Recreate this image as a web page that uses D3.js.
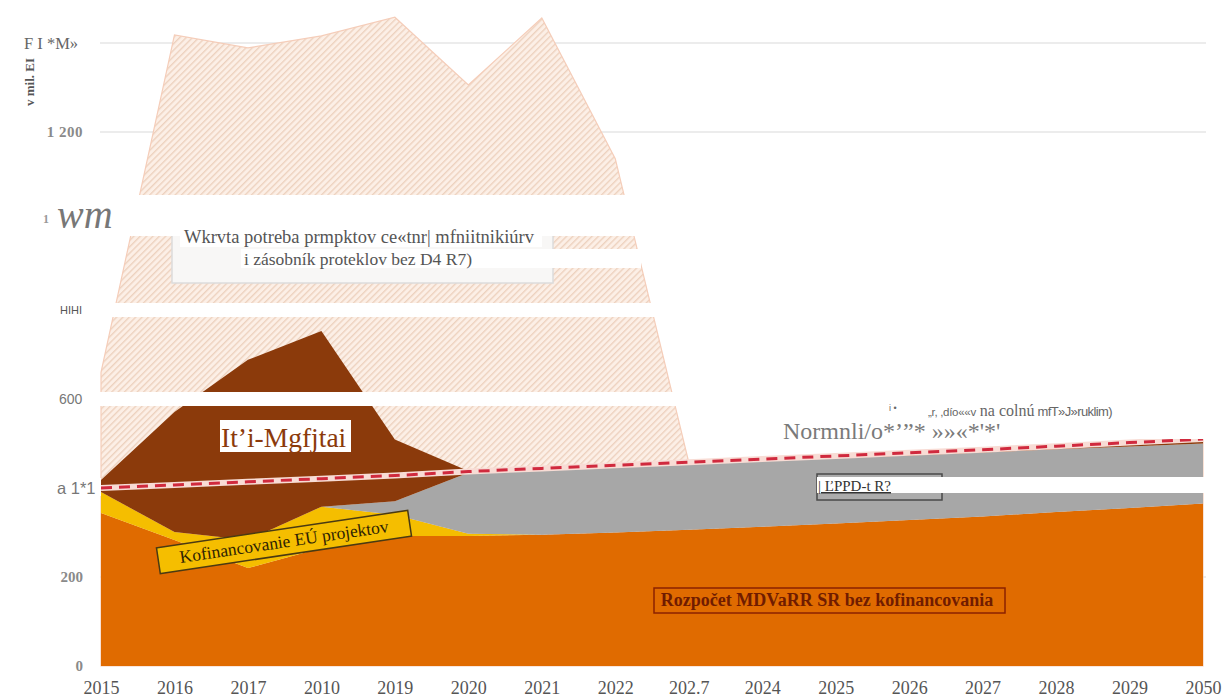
<!DOCTYPE html>
<html><head><meta charset="utf-8">
<script src="https://cdn.jsdelivr.net/npm/d3@7/dist/d3.min.js"></script>
<style>
html,body{margin:0;padding:0;background:#fff;}
svg{display:block;}
</style></head><body>
<svg id="chart" width="1222" height="697"></svg>
<script>
// ---------------- DATA ----------------
const years = [2015,2016,2017,2018,2019,2020,2021,2022,2023,2024,2025,2026,2027,2028,2029,2030];
const xTickLabels = ["2015","2016","2017","2010","2019","2020","2021","2022","202.7","2024","2025","2026","2027","2028","2029","2050"];
const yTickValues = [0,200,400,600,800,1000,1200,1400];
const yTickLabels = ["0","200","a 1*1","600","HIHI","1 wm","1 200","F I *M»"];
// stacked series (mil. EUR)
const rozpocet       = [344,283,220,265,292,292,295,300,306,313,320,328,336,346,355,365];
const kofinancovanie = [47,18,63,93,48,5,0,0,0,0,0,0,0,0,0,0];
const uppd           = [0,0,0,0,30,137,146,147,148,147,147,145,144,141,138,135];
const dalsie         = [27,270,405,395,139,4,3,3,4,4,5,6,7,8,9,10];
// total need (hatched) and normal need (dashed)
const celkovaPotreba = [660,1418,1389,1416,1458,1306,1456,1140,458,465,472,479,486,494,502,510];
const normalnaPotreba= [400,407,414,421,428,437,444,451,458,465,472,479,486,494,502,510];
const seriesKeys = ["rozpocet","kofinancovanie","uppd","dalsie"];
const seriesLabels = {
  celkova: ["Wkrvta potreba prmpktov ce«tnr| mfniitnikiúrv","i zásobník proteklov bez D4 R7)"],
  dalsie: "It’i-Mgfjtai",
  kofinancovanie: "Kofinancovanie EÚ projektov",
  rozpocet: "Rozpočet MDVaRR SR bez kofinancovania",
  uppd: "| ĽPPD-t R?",
  normalna: "Normnli/o*’”* »»«*'*'",
  normalnaSmall: ["i •", "„r, ,dío««v", " na colnú", " mfT»J»ruklim)"],
  yTitle: "v mil. EI"
};

// ---------------- CHART ----------------
const svg = d3.select("#chart");
const x = d3.scaleLinear().domain([2015,2030]).range([101,1203]);
const y = d3.scaleLinear().domain([0,1400]).range([666,43]);
const SERIF = "'Liberation Serif','Times New Roman',serif";
const SANS = "'Liberation Sans','DejaVu Sans',Arial,sans-serif";

const rows = years.map((yr,i)=>({year:yr, rozpocet:rozpocet[i], kofinancovanie:kofinancovanie[i],
  uppd:uppd[i], dalsie:dalsie[i], celkova:celkovaPotreba[i], normalna:normalnaPotreba[i]}));

const defs = svg.append("defs");
const pat = defs.append("pattern").attr("id","hatch").attr("patternUnits","userSpaceOnUse")
  .attr("width",4.5).attr("height",4.5).attr("patternTransform","rotate(45)");
pat.append("rect").attr("width",4.5).attr("height",4.5).attr("fill","#FCEFE6");
pat.append("line").attr("x1",0.7).attr("y1",0).attr("x2",0.7).attr("y2",4.5)
  .attr("stroke","#EDD0BC").attr("stroke-width",1.3);

// gridlines
svg.append("g").selectAll("line").data(yTickValues.filter(v=>v>0)).join("line")
  .attr("x1",100).attr("x2",1206).attr("y1",d=>y(d)).attr("y2",d=>y(d))
  .attr("stroke","#E6E6E6").attr("stroke-width",1.5);

// hatched total need
svg.append("path").datum(rows)
  .attr("d", d3.area().x(d=>x(d.year)).y0(y(0)).y1(d=>y(d.celkova)))
  .attr("fill","url(#hatch)").attr("stroke","#F5CDB9").attr("stroke-width",1.2);

// stacked areas
const colors = {rozpocet:"#E06B00", kofinancovanie:"#F5BE00", uppd:"#A7A7A7", dalsie:"#8B3A0B"};
const stacked = d3.stack().keys(seriesKeys)(rows);
svg.append("g").selectAll("path").data(stacked).join("path")
  .attr("fill",s=>colors[s.key])
  .attr("d", d3.area().x(d=>x(d.data.year)).y0(d=>y(d[0])).y1(d=>y(d[1])));

// dashed normal-need line
const ln = d3.line().x(d=>x(d.year)).y(d=>y(d.normalna));
svg.append("path").datum(rows).attr("d",ln).attr("fill","none")
  .attr("stroke","#F8DCD5").attr("stroke-width",6);
svg.append("path").datum(rows).attr("d",ln).attr("fill","none")
  .attr("stroke","#D02A3E").attr("stroke-width",3).attr("stroke-dasharray","11,7");

// ---- original label boxes ----
svg.append("rect").attr("x",172).attr("y",225).attr("width",381).attr("height",58)
  .attr("fill","#F8F7F6").attr("stroke","#DCDCDC").attr("stroke-width",1.5);
svg.append("rect").attr("x",817).attr("y",474).attr("width",125).attr("height",26)
  .attr("fill","#ACACAC").attr("stroke","#4A4A4A").attr("stroke-width",1.5);

const kof = svg.append("g").attr("transform","translate(284,542) rotate(-8.5)");
kof.append("rect").attr("x",-127).attr("y",-13).attr("width",254).attr("height",26)
  .attr("fill","#F5BE00").attr("stroke","#4A3A12").attr("stroke-width",1.5);
kof.append("text").attr("x",0).attr("y",5.5).attr("text-anchor","middle")
  .attr("font-family",SERIF).attr("font-size",17.5).attr("fill","#2E2304")
  .text(seriesLabels.kofinancovanie);

svg.append("rect").attr("x",654).attr("y",588).attr("width",351).attr("height",25)
  .attr("fill","#E06B00").attr("stroke","#8B2200").attr("stroke-width",1.5);
svg.append("text").attr("x",827).attr("y",606).attr("text-anchor","middle")
  .attr("font-family",SERIF).attr("font-size",18).attr("font-weight","bold").attr("fill","#701C00")
  .text(seriesLabels.rozpocet);

// ---- white overlay bands (OCR text backgrounds) ----
const bands = [
  [22,35,59,18],[55,195,1167,41],[180,228,362,19],[241,249,400,19],
  [55,303,1167,14],[55,392,1167,14],[220,420,131,32],[783,403,425,36],
  [817,477,405,16],[55,478,46,18]
];
svg.append("g").selectAll("rect").data(bands).join("rect")
  .attr("x",d=>d[0]).attr("y",d=>d[1]).attr("width",d=>d[2]).attr("height",d=>d[3]).attr("fill","#fff");

// celkova text
svg.append("text").attr("x",359).attr("y",243).attr("text-anchor","middle")
  .attr("font-family",SERIF).attr("font-size",18.5).attr("fill","#555").text(seriesLabels.celkova[0]);
svg.append("text").attr("x",358).attr("y",265).attr("text-anchor","middle")
  .attr("font-family",SERIF).attr("font-size",17.5).attr("fill","#555").text(seriesLabels.celkova[1]);

// dalsie label
svg.append("text").attr("x",221).attr("y",447)
  .attr("font-family",SERIF).attr("font-size",27.5).attr("fill","#8B3A0B").text(seriesLabels.dalsie);

// normalna label
svg.append("text").attr("x",783).attr("y",439)
  .attr("font-family",SERIF).attr("font-size",24).attr("fill","#7A7A7A").text(seriesLabels.normalna);
svg.append("text").attr("x",889).attr("y",411)
  .attr("font-family",SANS).attr("font-size",9).attr("fill","#666").text(seriesLabels.normalnaSmall[0]);
const ns = svg.append("text").attr("x",928).attr("y",416).attr("fill","#666");
ns.append("tspan").attr("font-family",SANS).attr("font-size",11.5).attr("letter-spacing",-0.3).text(seriesLabels.normalnaSmall[1]);
ns.append("tspan").attr("font-family",SERIF).attr("font-size",16).text(seriesLabels.normalnaSmall[2]);
ns.append("tspan").attr("font-family",SANS).attr("font-size",13).attr("letter-spacing",-0.6).text(seriesLabels.normalnaSmall[3]);

// uppd label
svg.append("text").attr("x",818).attr("y",491)
  .attr("font-family",SERIF).attr("font-size",15).attr("fill","#333")
  .attr("text-decoration","underline").text(seriesLabels.uppd);

// ---- Y tick labels ----
const yl = svg.append("g");
yTickValues.forEach((v,i)=>{
  const lab = yTickLabels[i];
  const cy = y(v);
  if (i===0 || i===1 || i===6) {
    yl.append("text").attr("x",83).attr("y",cy+5).attr("text-anchor","end")
      .attr("font-family",SERIF).attr("font-weight","bold").attr("font-size",15)
      .attr("letter-spacing", i===6 ? 0.5 : 0).attr("fill","#8A8A8A").text(lab);
  } else if (i===2) {
    yl.append("text").attr("x",57).attr("y",cy+6).attr("font-family",SANS).attr("font-size",16.5).attr("fill","#777").text(lab);
  } else if (i===3) {
    yl.append("text").attr("x",59).attr("y",cy+5).attr("font-family",SANS).attr("font-size",14).attr("fill","#777").text(lab);
  } else if (i===4) {
    yl.append("text").attr("x",60).attr("y",cy+4).attr("font-family",SANS).attr("font-size",11).attr("fill","#555").text(lab);
  } else if (i===5) {
    const parts = lab.split(" ");
    yl.append("text").attr("x",43).attr("y",cy+2).attr("font-family",SERIF).attr("font-weight","bold")
      .attr("font-size",12).attr("fill","#999").text(parts[0]);
    yl.append("text").attr("x",57).attr("y",cy+7).attr("font-family",SERIF).attr("font-style","italic")
      .attr("font-size",40).attr("fill","#777").text(parts[1]);
  } else {
    yl.append("text").attr("x",24).attr("y",cy+6).attr("font-family",SERIF).attr("font-size",16.5).attr("fill","#666").text(lab);
  }
});

// Y axis title
svg.append("text").attr("transform","translate(34,82) rotate(-90)").attr("text-anchor","middle")
  .attr("font-family",SERIF).attr("font-weight","bold").attr("font-size",13).attr("fill","#555")
  .text(seriesLabels.yTitle);

// ---- X axis ----
const xa = svg.append("g").attr("transform","translate(0,681)")
  .call(d3.axisBottom(x).tickValues(years).tickSize(0).tickPadding(0).tickFormat((d,i)=>xTickLabels[i]));
xa.select(".domain").remove();
xa.selectAll("text").attr("font-family",SERIF).attr("font-size",18).attr("fill","#555");
</script>
</body></html>
